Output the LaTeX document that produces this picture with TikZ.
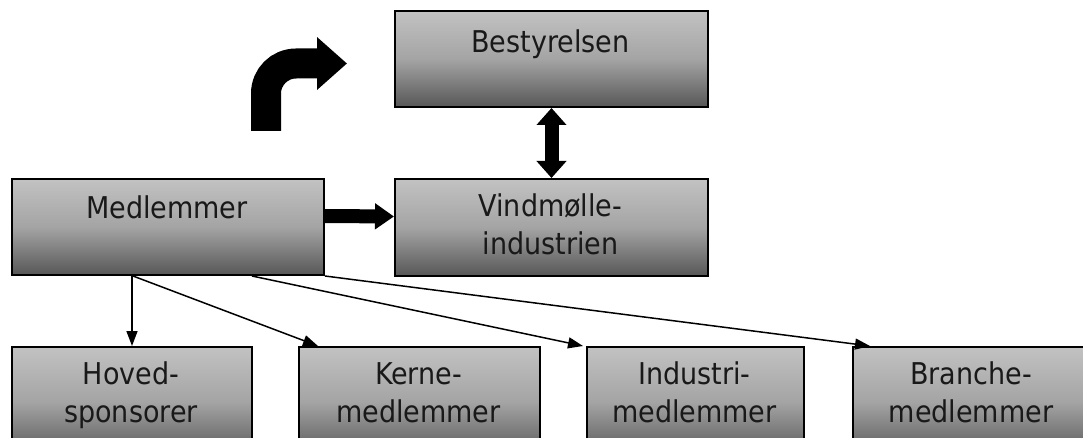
\documentclass[tikz,border=0pt]{standalone}
\usepackage{fontspec}
\setmainfont{DejaVu Sans Condensed}
\usetikzlibrary{arrows.meta}

\definecolor{boxtop}{HTML}{C2C2C2}
\definecolor{boxmid}{HTML}{A4A4A4}
\definecolor{boxbot}{HTML}{575757}

\tikzset{
  orgbox/.style={draw=black, line width=2pt, top color=boxtop,
    bottom color=boxbot, middle color=boxmid, inner sep=0pt,
    anchor=north west},
  orglabel/.style={inner sep=0pt, anchor=north, align=center,
    font=\fontsize{30}{38}\selectfont, text=black!90},
  thinarrow/.style={-{Triangle[length=15pt,width=11pt]}, line width=1.5pt},
  fatarrow/.style={-{Triangle[length=19pt,width=25pt]}, line width=14pt},
}

\begin{document}
\begin{tikzpicture}[x=1pt, y=-1pt]

  \useasboundingbox (0,0) rectangle (1083,438);
  \clip (0,0) rectangle (1083,438);

  \def\toprow{10}
  \def\midrow{178}
  \def\lowrow{346}

  % Board and industry on the right, members on the left.
  \node [orgbox, minimum width=313pt, minimum height=96pt]
        (best) at (394, \toprow) {};
  \node [orgbox, minimum width=313pt, minimum height=97pt]
        (vind) at (394, \midrow) {};
  \node [orgbox, minimum width=312pt, minimum height=96pt]
        (med) at (11, \midrow) {};

  % The four kinds of members, cut off by the lower edge.
  \node [orgbox, minimum width=240pt, minimum height=110pt]
        (hoved) at (11, \lowrow) {};
  \node [orgbox, minimum width=241pt, minimum height=110pt]
        (kerne) at (298, \lowrow) {};
  \node [orgbox, minimum width=217pt, minimum height=110pt]
        (industri) at (586, \lowrow) {};
  \node [orgbox, minimum width=250pt, minimum height=110pt]
        (branche) at (852, \lowrow) {};

  \node [orglabel] (best-txt)     at (550.5, 30)  {Bestyrelsen};
  \node [orglabel] (vind-txt)     at (550.5, 194) {Vindmølle-\\industrien};
  \node [orglabel] (med-txt)      at (167,   196) {Medlemmer};
  \node [orglabel] (hoved-txt)    at (131,   362) {Hoved-\\sponsorer};
  \node [orglabel] (kerne-txt)    at (418.5, 362) {Kerne-\\medlemmer};
  \node [orglabel] (industri-txt) at (694.5, 362) {Industri-\\medlemmer};
  \node [orglabel] (branche-txt)  at (971,   362) {Branche-\\medlemmer};

  % Thick arrows between the upper boxes.
  \draw [fatarrow] ([yshift=11pt]med.east) -- ([yshift=11pt]vind.west);
  \draw [{Triangle[length=17pt,width=29pt]}-{Triangle[length=17pt,width=29pt]},
         line width=14pt] (best.south) -- (vind.north);

  % Bent arrow up towards the board.
  \coordinate (turn-start) at (266, 131);
  \coordinate (turn-end)   at (347, 63.5);
  \draw [line width=30pt, rounded corners=30pt,
         -{Triangle[length=30pt,width=51pt]}] (turn-start) |- (turn-end);

  % Members split into four groups.
  \draw [thinarrow] ([xshift=121pt]med.south west)
        -- ([xshift=121pt]hoved.north west);
  \draw [thinarrow] ([xshift=122pt]med.south west)
        -- ([xshift=20pt]kerne.north west);
  \draw [thinarrow] ([xshift=241pt]med.south west)
        -- ([xshift=-3pt]industri.north west);
  \draw [thinarrow] (med.south east)
        -- ([xshift=18pt]branche.north west);

\end{tikzpicture}
\end{document}
